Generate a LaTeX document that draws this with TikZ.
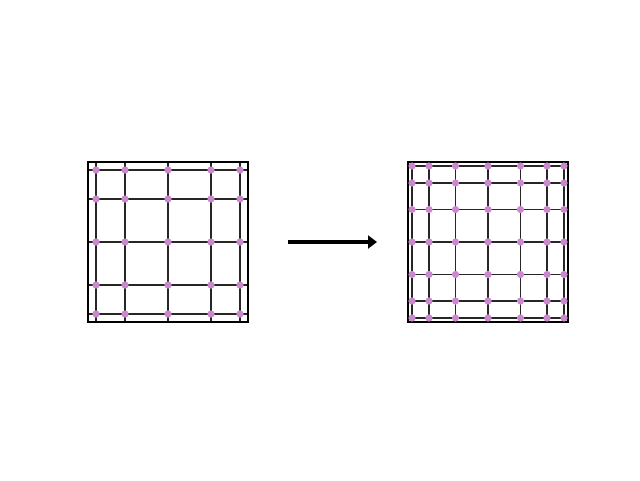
\documentclass[tikz,border=0pt]{standalone}
\usetikzlibrary{arrows.meta}
\definecolor{dotpink}{RGB}{204,136,204}
\begin{document}
\begin{tikzpicture}[x=1pt,y=-1pt,
  gridline/.style={line width=1.1pt,black!85},
  frame/.style={line width=2.4pt,black},
  meshdot/.style={circle,fill=dotpink,inner sep=0pt,minimum size=7.2pt},
  bigarrow/.style={line width=4.4pt,-{Triangle[length=9pt,width=13pt]}}]
\useasboundingbox (0,0) rectangle (640,480);
% left mesh
\foreach \p in {-72,-43,0,43,72}{
  \draw[gridline] (168+\p,162) -- (168+\p,322);
  \draw[gridline] (88,242+\p) -- (248,242+\p);
}
\draw[frame] (88,162) rectangle (248,322);
\foreach \i in {-72,-43,0,43,72}{
  \foreach \j in {-72,-43,0,43,72}{
    \node[meshdot] at (168+\i,242+\j) {};
  }
}
% right mesh
\foreach \p in {-76,-59,-32.5,0,32.5,59,76}{
  \draw[gridline] (488+\p,162) -- (488+\p,322);
  \draw[gridline] (408,242+\p) -- (568,242+\p);
}
\draw[frame] (408,162) rectangle (568,322);
\foreach \i in {-76,-59,-32.5,0,32.5,59,76}{
  \foreach \j in {-76,-59,-32.5,0,32.5,59,76}{
    \node[meshdot] at (488+\i,242+\j) {};
  }
}
% arrow
\coordinate (astart) at (288,242);
\coordinate (aend) at (377,242);
\draw[bigarrow] (astart) -- (aend);
\end{tikzpicture}
\end{document}
